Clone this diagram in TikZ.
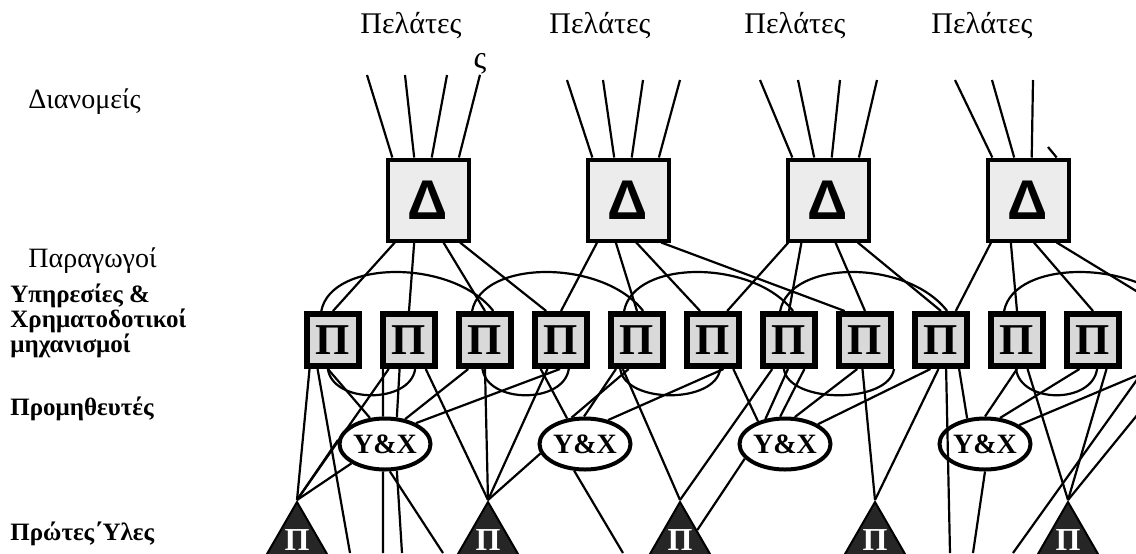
\documentclass[tikz,border=0pt]{standalone}
\usepackage{fontspec}
\setmainfont{Liberation Serif}
\setsansfont{Liberation Sans}
\usetikzlibrary{positioning,shapes.geometric}

\begin{document}
\begin{tikzpicture}[
x=0.5pt,y=-0.5pt,
dbox/.style={draw,line width=2pt,fill=gray!15,minimum size=40.5pt,inner sep=0pt,font=\sffamily\bfseries\fontsize{28}{28}\selectfont},
pbox/.style={draw,line width=3pt,fill=gray!30,minimum size=26pt,inner sep=0pt,font=\bfseries\fontsize{22}{22}\selectfont},
yx/.style={ellipse,draw,line width=2pt,fill=white,minimum width=45.5pt,minimum height=25.5pt,inner sep=0pt,font=\bfseries\fontsize{14}{14}\selectfont},
raw/.style={regular polygon,regular polygon sides=3,draw,line width=1pt,fill=black!85,text=white,minimum size=38pt,inner sep=0pt,font=\bfseries\fontsize{16}{16}\selectfont},
link/.style={line width=1.1pt},
cust/.style={anchor=base,inner sep=0pt,font=\fontsize{15}{15}\selectfont},
lvl/.style={anchor=base west,inner sep=0pt,font=\fontsize{14}{14}\selectfont},
lvlb/.style={anchor=base west,inner sep=0pt,align=left,font=\bfseries\fontsize{12.5}{12.5}\selectfont}
]
\path[use as bounding box,fill=white] (0,0) rectangle (1136,553);
\clip (0,0) rectangle (1136,553);
\node[lvl] (ldist) at (28,108) {Διανομείς};
\node[lvl] (lprod) at (28,267) {Παραγωγοί};
\node[lvlb,anchor=north west] (lserv) at (10,284) {Υπηρεσίες \&\\Χρηματοδοτικοί\\μηχανισμοί};
\node[lvlb] (lsupp) at (10,415) {Προμηθευτές};
\node[lvlb] (lraw) at (10,540) {Πρώτες΄Υλες};
\node[cust] (cust1) at (411,33) {Πελάτες};
\node[cust] (cust2) at (600,33) {Πελάτες};
\node[cust] (cust3) at (795,33) {Πελάτες};
\node[cust] (cust4) at (982,33) {Πελάτες};
\node[inner sep=0pt,font=\fontsize{16}{16}\selectfont] (sig) at (480,64) {ς};
\node[dbox] (d1) at (428,200) {Δ};
\node[dbox,right=57.5pt of d1] (d2) {Δ};
\node[dbox,right=57.5pt of d2] (d3) {Δ};
\node[dbox,right=57.5pt of d3] (d4) {Δ};
\node[pbox] (p1) at (333,340) {Π};
\node[pbox,right=9pt of p1] (p2) {Π};
\node[pbox,right=9pt of p2] (p3) {Π};
\node[pbox,right=9pt of p3] (p4) {Π};
\node[pbox,right=9pt of p4] (p5) {Π};
\node[pbox,right=9pt of p5] (p6) {Π};
\node[pbox,right=9pt of p6] (p7) {Π};
\node[pbox,right=9pt of p7] (p8) {Π};
\node[pbox,right=9pt of p8] (p9) {Π};
\node[pbox,right=9pt of p9] (p10) {Π};
\node[pbox,right=9pt of p10] (p11) {Π};
\node[pbox,right=9pt of p11] (p12) {Π};
\node[yx] (yx1) at (385,444) {Υ\&Χ};
\node[yx,right=52.5pt of yx1] (yx2) {Υ\&Χ};
\node[yx,right=52.5pt of yx2] (yx3) {Υ\&Χ};
\node[yx,right=52.5pt of yx3] (yx4) {Υ\&Χ};
\node[raw] (r1) at (297,540) {Π};
\node[raw] (r2) at (488,540) {Π};
\node[raw] (r3) at (680,540) {Π};
\node[raw] (r4) at (875,540) {Π};
\node[raw] (r5) at (1068,540) {Π};
\coordinate (cu11) at (367,75);
\coordinate (cu12) at (405,75);
\coordinate (cu13) at (447,75);
\coordinate (cu21) at (567,80);
\coordinate (cu22) at (603,80);
\coordinate (cu23) at (643,80);
\coordinate (cu24) at (680,80);
\coordinate (cu31) at (760,80);
\coordinate (cu32) at (798,80);
\coordinate (cu33) at (840,80);
\coordinate (cu34) at (877,80);
\coordinate (cu41) at (955,80);
\coordinate (cu42) at (992,80);
\coordinate (cu43) at (1033,80);
\coordinate (cu44) at (1048,147);
\coordinate (bt1) at (350,553);
\coordinate (bt2) at (383,553);
\coordinate (bt3) at (402,553);
\coordinate (bt4) at (443,553);
\coordinate (bt5) at (623,553);
\coordinate (bt6) at (950,553);
\coordinate (bt7) at (973,553);
\coordinate (bt8) at (1013,553);
\draw[link] (d1.130)--(cu11);
\draw[link] (d1.108)--(cu12);
\draw[link] (d1.85)--(cu13);
\draw[link] (d1.54)--(sig.south);
\draw[link] (d2.130)--(cu21);
\draw[link] (d2.108)--(cu22);
\draw[link] (d2.85)--(cu23);
\draw[link] (d2.54)--(cu24);
\draw[link] (d3.130)--(cu31);
\draw[link] (d3.108)--(cu32);
\draw[link] (d3.85)--(cu33);
\draw[link] (d3.54)--(cu34);
\draw[link] (d4.130)--(cu41);
\draw[link] (d4.108)--(cu42);
\draw[link] (d4.85)--(cu43);
\draw[link] (d4.56)--(cu44);
\draw[link] (d1.-128)--(p1.north);
\draw[link] (d1.-108)--(p2.north);
\draw[link] (d1.-70)--(p3.north);
\draw[link] (d1.-53)--(p4.117);
\draw[link] (d2.-126)--(p4.north);
\draw[link] (d2.-106)--(p5.north);
\draw[link] (d2.-79)--(p6.114);
\draw[link] (d2.-52)--(p8.125);
\draw[link] (d3.-133)--(p6.64);
\draw[link] (d3.-122)--(p7.north);
\draw[link] (d3.-80)--(p8.north);
\draw[link] (d3.-55)--(p9.north);
\draw[link] (d4.-131)--(p9.63);
\draw[link] (d4.-112)--(p10.north);
\draw[link] (d4.-82)--(p11.north);
\draw[link] (d4.-56)--(p12.north);
\draw[link] (p1.112) .. controls +(10,-52) and +(-40,-52) .. (p3.74);
\draw[link] (p3.114) .. controls +(10,-52) and +(-40,-52) .. (p5.78);
\draw[link] (p5.114) .. controls +(10,-52) and +(-40,-52) .. (p7.82);
\draw[link] (p7.107) .. controls +(10,-52) and +(-40,-52) .. (p9.78);
\draw[link] (p10.114) .. controls +(10,-52) and +(-40,-52) .. (p12.73);
\draw[link] (p1.-100) .. controls +(5,35) and +(-5,35) .. (p2.-78);
\draw[link] (p3.-95) .. controls +(5,35) and +(-5,35) .. (p4.-75);
\draw[link] (p5.-120) .. controls +(5,35) and +(-5,35) .. (p6.-76);
\draw[link] (p7.-100) .. controls +(5,35) and +(-5,35) .. (p8.-45);
\draw[link] (p10.-92) .. controls +(5,35) and +(-5,35) .. (p11.-82);
\draw[link] (p1.-100)--(yx1.120);
\draw[link] (p2.-132)--(yx1.94);
\draw[link] (p2.-108)--(yx1.66);
\draw[link] (p3.-120)--(yx1.51);
\draw[link] (p4.-92)--(yx1.34);
\draw[link] (p4.-125)--(yx2.125);
\draw[link] (p5.-106)--(yx2.117);
\draw[link] (p5.-126)--(yx2.92);
\draw[link] (p6.-70)--(yx2.46);
\draw[link] (p6.-55)--(yx3.140);
\draw[link] (p7.-92)--(yx3.128);
\draw[link] (p7.-62)--(yx3.100);
\draw[link] (p8.-105)--(yx3.70);
\draw[link] (p9.-110)--(yx3.31);
\draw[link] (p9.-58)--(yx4.125);
\draw[link] (p10.-90)--(yx4.90);
\draw[link] (p11.-115)--(yx4.60);
\draw[link] (p12.-120)--(yx4.29);
\draw[link] (yx1.175)--(r1.corner 1);
\draw[link] (yx1.-150)--(r1.corner 1);
\draw[link] (yx1.-94)--(bt2);
\draw[link] (yx1.-66)--(bt3);
\draw[link] (yx1.-80)--(bt4);
\draw[link] (yx2.-168)--(r2.corner 1);
\draw[link] (yx2.-112)--(bt5);
\draw[link] (yx3.-160)--(r3.side 3);
\draw[link] (yx4.-90)--(bt7);
\draw[link] (p1.-129)--(r1.corner 1);
\draw[link] (p1.-118)--(bt1);
\draw[link] (p2.-125)--(r1.corner 1);
\draw[link] (p2.-60)--(r2.corner 1);
\draw[link] (p3.-90)--(r2.corner 1);
\draw[link] (p4.-115)--(r2.corner 1);
\draw[link] (p5.-116)--(r3.corner 1);
\draw[link] (p7.-120)--(r3.corner 1);
\draw[link] (p8.-95)--(r4.corner 1);
\draw[link] (p9.-95)--(r4.corner 1);
\draw[link] (p9.-80)--(bt6);
\draw[link] (p10.-70)--(r5.corner 1);
\draw[link] (p11.-65)--(r5.corner 1);
\draw[link] (p12.-79)--(r5.corner 1);
\draw[link] (p12.-130)--(bt8);
\end{tikzpicture}
\end{document}
